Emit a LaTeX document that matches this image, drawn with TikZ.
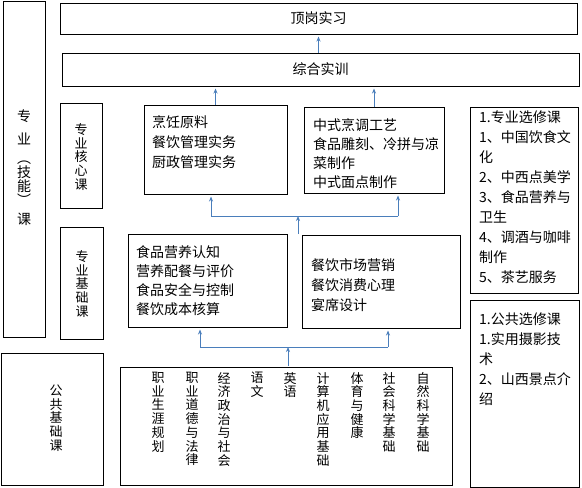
\documentclass[tikz,border=0pt]{standalone}
\usepackage{fontspec}
\setmainfont{Noto Sans CJK SC}
\usetikzlibrary{arrows.meta, positioning, calc}
\definecolor{LinkBlue}{HTML}{4A7EBB}

\tikzset{
    box/.style={draw=black, line width=1pt, inner sep=0pt},
    txt/.style={font=\fontsize{14}{20}\selectfont, align=left, inner sep=0pt, anchor=north west},
    vtxt/.style={font=\fontsize{13}{13.7}\selectfont, align=center, inner sep=0pt},
    link/.style={draw=LinkBlue, line width=1pt, -{Stealth[length=5pt,width=4pt]}, shorten >=2pt},
    bar/.style={draw=LinkBlue, line width=1pt}
}

\begin{document}
\begin{tikzpicture}[x=1pt, y=-1pt]
    \useasboundingbox (0,0) rectangle (582,488);

    % left labels
    \node (zhuanye) [box, minimum width=42pt, minimum height=336pt] at (24,169) {};
    \node [vtxt, font=\fontsize{14}{14}\selectfont] at (24,168) {专\\[9pt]业\\[5pt]︵\\技\\能\\︶\\[5pt]课};
    \node (hexin) [box, minimum width=42pt, minimum height=105pt] at (81,155.5) {};
    \node [vtxt] at (81,157) {专\\业\\核\\心\\课};
    \node (jichu) [box, minimum width=43pt, minimum height=112pt] at (81.5,283) {};
    \node [vtxt] at (82,284) {专\\业\\基\\础\\课};
    \node (gonggong) [box, minimum width=102pt, minimum height=132pt] at (52,419) {};
    \node [vtxt] at (56,418) {公\\共\\基\\础\\课};

    % top two stages
    \node (dinggang) [box, minimum width=517pt, minimum height=31pt, font=\fontsize{14}{20}\selectfont] at (318.5,18.5) {顶岗实习};
    \node (zonghe) [box, minimum width=517pt, minimum height=33pt, font=\fontsize{14}{20}\selectfont] at (320.5,69.5) {综合实训};

    % core courses
    \node (core1) [box, minimum width=143pt, minimum height=89pt] at (215.5,149.5) {};
    \node [txt] at (152,115) {烹饪原料\\餐饮管理实务\\厨政管理实务};
    \node (core2) [box, minimum width=140pt, minimum height=86pt] at (374,150) {};
    \node [txt, font=\fontsize{14}{19}\selectfont] at (313,118) {中式烹调工艺\\食品雕刻、冷拼与凉\\菜制作\\中式面点制作};

    % basic courses
    \node (basic1) [box, minimum width=159pt, minimum height=93pt] at (207.5,280.5) {};
    \node [txt, font=\fontsize{14}{19.3}\selectfont] at (136,245) {食品营养认知\\营养配餐与评价\\食品安全与控制\\餐饮成本核算};
    \node (basic2) [box, minimum width=158pt, minimum height=93pt] at (381,281.5) {};
    \node [txt] at (311,258) {餐饮市场营销\\餐饮消费心理\\宴席设计};

    % public courses
    \node (courses) [box, minimum width=332pt, minimum height=118pt] at (286,426) {};
    \node (c1) [vtxt, anchor=north] at (158,372) {职\\业\\生\\涯\\规\\划};
    \node (c2) [vtxt, anchor=north] at (192,372) {职\\业\\道\\德\\与\\法\\律};
    \node (c3) [vtxt, anchor=north] at (224,372) {经\\济\\政\\治\\与\\社\\会};
    \node (c4) [vtxt, anchor=north] at (257,372) {语\\文};
    \node (c5) [vtxt, anchor=north] at (290,372) {英\\语};
    \node (c6) [vtxt, anchor=north] at (323,372) {计\\算\\机\\应\\用\\基\\础};
    \node (c7) [vtxt, anchor=north] at (357,372) {体\\育\\与\\健\\康};
    \node (c8) [vtxt, anchor=north] at (389,372) {社\\会\\科\\学\\基\\础};
    \node (c9) [vtxt, anchor=north] at (423,372) {自\\然\\科\\学\\基\\础};

    % electives
    \node (elective1) [box, minimum width=108pt, minimum height=186pt] at (524,200) {};
    \node [txt] at (479,111) {1.专业选修课\\1、中国饮食文\\化\\2、中西点美学\\3、食品营养与\\卫生\\4、调酒与咖啡\\制作\\5、茶艺服务};
    \node (elective2) [box, minimum width=109pt, minimum height=187pt] at (524.5,393.5) {};
    \node [txt] at (479,313) {1.公共选修课\\1.实用摄影技\\术\\2、山西景点介\\绍};

    % connectors
    \draw[link] (dinggang.south |- zonghe.north) -- (dinggang.south);
    \draw[link] (core1.north) -- (core1.north |- zonghe.south);
    \draw[link] (core2.north) -- (core2.north |- zonghe.south);

    \coordinate (split1) at (298,216);
    \coordinate (feed1) at (298,234);
    \coordinate (left1) at (211,216);
    \coordinate (right1) at (398,216);
    \draw[bar] (left1) -- (right1);
    \draw[link, shorten >=0pt] (feed1) -- (split1);
    \draw[link] (left1) -- (left1 |- core1.south);
    \draw[link] (right1) -- (right1 |- core2.south);

    \coordinate (split2) at (288,347);
    \coordinate (feed2) at (288,366);
    \coordinate (left2) at (200,347);
    \coordinate (right2) at (388,347);
    \draw[bar] (left2) -- (right2);
    \draw[link, shorten >=0pt] (feed2) -- (split2);
    \draw[link] (left2) -- (left2 |- basic1.south);
    \draw[link] (right2) -- (right2 |- basic2.south);
\end{tikzpicture}
\end{document}
